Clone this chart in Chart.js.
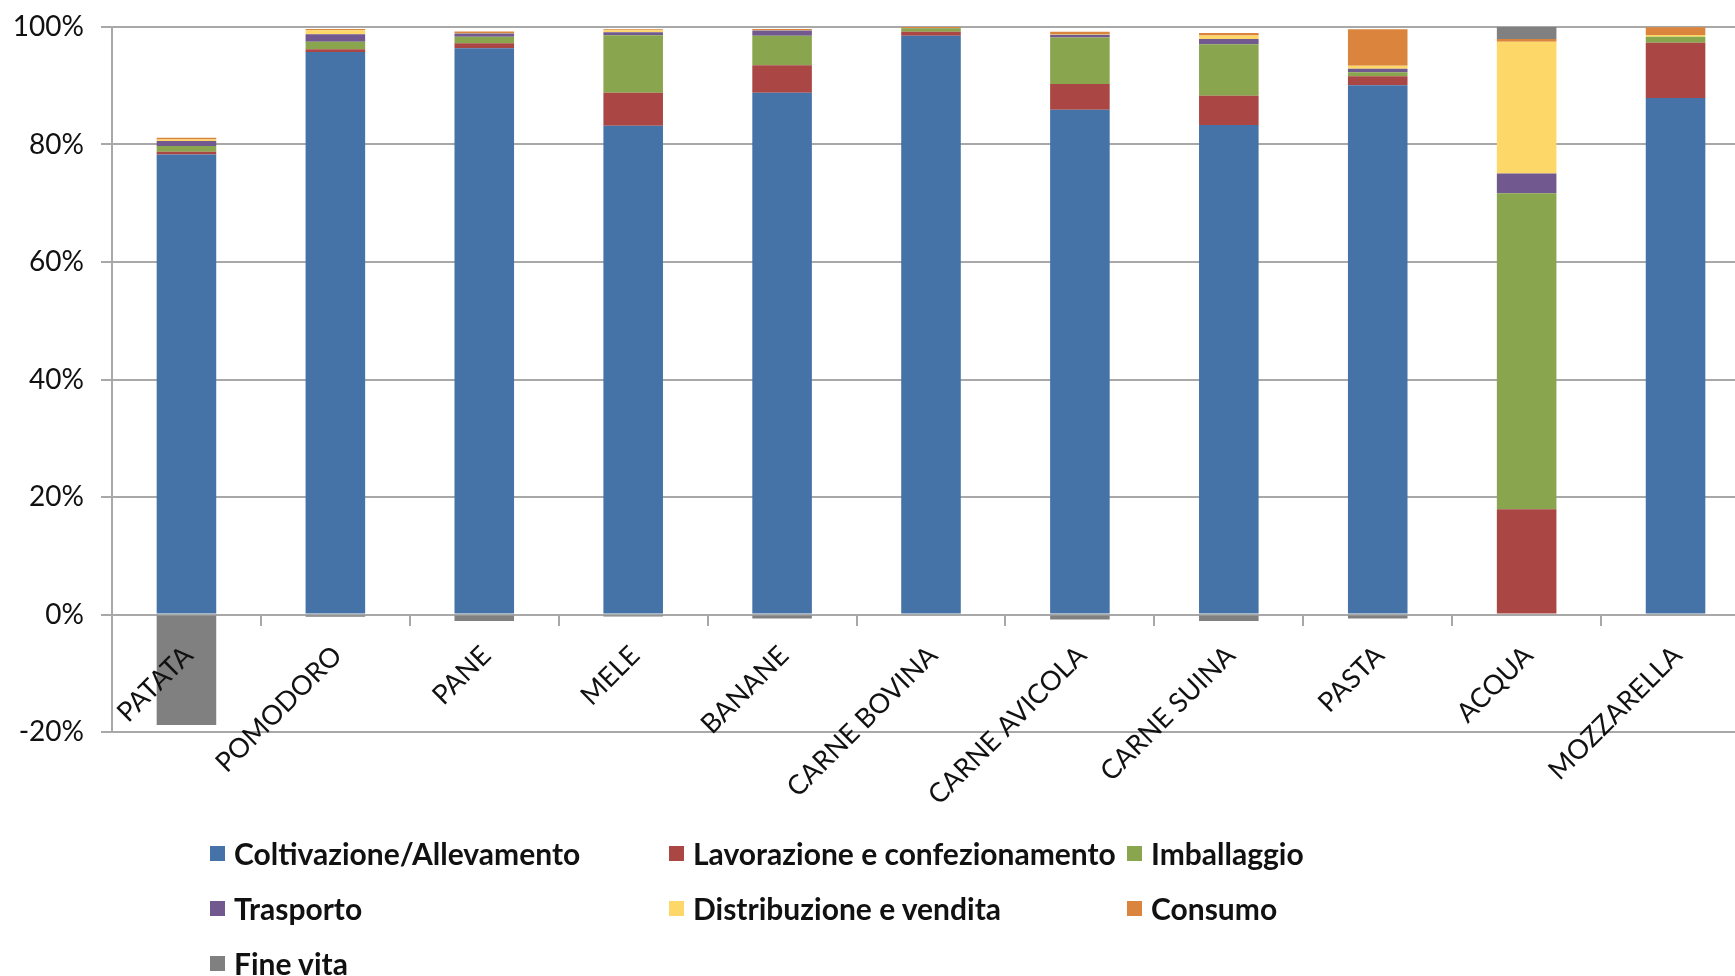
<!DOCTYPE html>
<html>
<head>
<meta charset="utf-8">
<script src="https://cdn.jsdelivr.net/npm/chart.js@4/dist/chart.umd.min.js"></script>
<style>
  html, body { margin: 0; padding: 0; overflow: hidden; background: #fff; }
  #wrap { position: relative; width: 1760px; height: 976px; }
  #legend { position: absolute; left: 0; top: 0; font-family: Lato, "Open Sans", sans-serif; font-weight: 700; font-size: 30px; color: #111; }
  .item { position: absolute; display: flex; align-items: center; height: 30px; white-space: nowrap; }
  .sw { width: 15px; height: 15px; margin-right: 9px; }
</style>
</head>
<body>
<div id="wrap">
  <canvas id="chart" width="1760" height="976"></canvas>
  <div id="legend"></div>
</div>
<script>
const categories = ['PATATA', 'POMODORO', 'PANE', 'MELE', 'BANANE', 'CARNE BOVINA', 'CARNE AVICOLA', 'CARNE SUINA', 'PASTA', 'ACQUA', 'MOZZARELLA'];

const coltivazione = [78.3, 95.75, 96.4, 83.2, 88.8, 98.5, 85.9, 83.3, 90.1, 0, 87.9];
const lavorazione  = [0.45, 0.45, 0.85, 5.6, 4.7, 0.7, 4.4, 5.0, 1.5, 17.9, 9.4];
const imballaggio  = [1.0, 1.3, 1.1, 9.8, 5.0, 0.6, 7.9, 8.75, 0.7, 53.8, 1.05];
const trasporto    = [0.85, 1.25, 0.55, 0.5, 0.9, 0.05, 0.5, 0.9, 0.6, 3.35, 0];
const distribuzione = [0.25, 0.7, 0.1, 0.35, 0.1, 0, 0.1, 0.6, 0.5, 22.45, 0.3];
const consumo      = [0.3, 0.2, 0.25, 0.15, 0.15, 0.15, 0.4, 0.45, 6.2, 0.45, 1.3];
const fineVita     = [-18.8, -0.4, -1.1, -0.35, -0.7, 0, -0.85, -1.1, -0.7, 2.05, 0];

const yTicks = [-20, 0, 20, 40, 60, 80, 100];

const series = [
  { label: 'Coltivazione/Allevamento', data: coltivazione, color: '#4572A7' },
  { label: 'Lavorazione e confezionamento', data: lavorazione, color: '#AA4643' },
  { label: 'Imballaggio', data: imballaggio, color: '#89A54E' },
  { label: 'Trasporto', data: trasporto, color: '#71588F' },
  { label: 'Distribuzione e vendita', data: distribuzione, color: '#FDD868' },
  { label: 'Consumo', data: consumo, color: '#DB843D' },
  { label: 'Fine vita', data: fineVita, color: '#808080' }
];

const gridColor = '#a8a8a8';
const family = 'Lato, "Open Sans", sans-serif';

new Chart(document.getElementById('chart'), {
  type: 'bar',
  data: {
    labels: categories,
    datasets: series.map(s => ({
      label: s.label,
      data: s.data,
      backgroundColor: s.color,
      borderWidth: 0,
      barPercentage: 0.4,
      categoryPercentage: 1
    }))
  },
  options: {
    responsive: false,
    animation: false,
    layout: { padding: { top: 27, bottom: 244, left: 0, right: 10 } },
    plugins: { legend: { display: false }, tooltip: { enabled: false } },
    scales: {
      x: {
        stacked: true,
        position: { y: 0 },
        afterFit: s => { s.height = 0; s.paddingLeft = 0; s.paddingRight = 0; },
        grid: { drawOnChartArea: false, drawTicks: true, tickLength: 10, color: gridColor, lineWidth: 2, offset: true },
        border: { display: true, color: gridColor, width: 2 },
        ticks: {
          z: 1,
          autoSkip: false, minRotation: 45, maxRotation: 45, padding: 15, labelOffset: 2,
          color: '#111', font: { family: family, size: 27 }
        }
      },
      y: {
        stacked: true,
        min: -20,
        max: 100,
        afterFit: s => { s.width = 112; s.paddingTop = 0; s.paddingBottom = 0; },
        afterBuildTicks: s => { s.ticks = yTicks.map(v => ({ value: v })); },
        grid: { color: gridColor, lineWidth: 2, drawTicks: true, tickLength: 11 },
        border: { display: true, color: gridColor, width: 2 },
        ticks: { padding: 17, color: '#111', font: { family: family, size: 28 }, callback: v => v + '%' }
      }
    }
  }
});

// legend laid out in three columns like the original
const cols = [210, 669, 1127];
const rows = [853, 908, 963];
const legend = document.getElementById('legend');
series.forEach((s, i) => {
  const item = document.createElement('div');
  item.className = 'item';
  item.style.left = cols[i % 3] + 'px';
  item.style.top = (rows[Math.floor(i / 3)] - 15) + 'px';
  item.innerHTML = '<span class="sw" style="background:' + s.color + '"></span>' + s.label;
  legend.appendChild(item);
});
</script>
</body>
</html>
